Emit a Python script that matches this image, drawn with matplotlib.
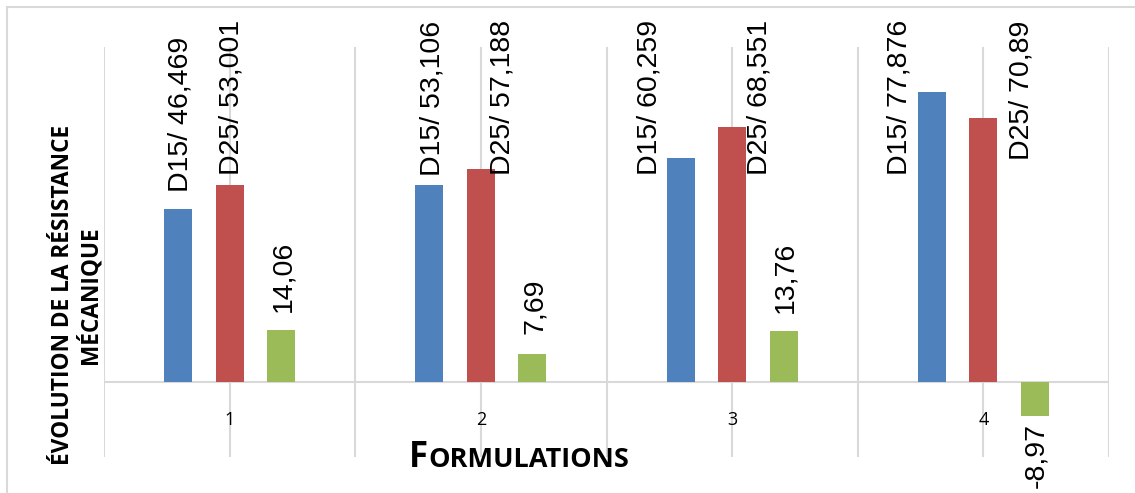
import matplotlib.pyplot as plt
import numpy as np
from matplotlib.offsetbox import TextArea, HPacker, AnnotationBbox
from matplotlib.patches import Rectangle

formulations = ["1", "2", "3", "4"]

d15 = [46.469, 53.106, 60.259, 77.876]
d25 = [53.001, 57.188, 68.551, 70.89]
evolution = [14.06, 7.69, 13.76, -8.97]

d15_labels = ["D15/ 46,469", "D15/ 53,106", "D15/ 60,259", "D15/ 77,876"]
d25_labels = ["D25/ 53,001", "D25/ 57,188", "D25/ 68,551", "D25/ 70,89"]
evolution_labels = ["14,06", "7,69", "13,76", "-8,97"]

# label nudges in pixels (dx, gap) away from the bar end, Excel-style placement
d15_nudge = [(2, 17), (3, 9), (-31, -17), (-32, -83)]
d25_nudge = [(2, 10), (22, -6), (27, -48), (38, -42)]
evo_nudge = [(2, 18), (3, 20), (2, 18), (1, 7)]

BLUE = "#4F81BD"
RED = "#C0504D"
GREEN = "#9BBB59"
GRID = "#d9d9d9"

fig = plt.figure(figsize=(11.35, 4.93), dpi=100)
ax = fig.add_axes([104 / 1135, 36 / 493, 1005 / 1135, 410 / 493])

x = np.arange(len(formulations)) + 1
width = 0.112
offset = 0.205

series = [
    (d15, d15_labels, d15_nudge, BLUE, -offset),
    (d25, d25_labels, d25_nudge, RED, 0.0),
    (evolution, evolution_labels, evo_nudge, GREEN, offset),
]

for values, labels, nudges, color, shift in series:
    ax.bar(x + shift, values, width, color=color, zorder=3)
    for xi, v, lab, (dx, dy) in zip(x + shift, values, labels, nudges):
        if v >= 0:
            va, sign = "bottom", 1
        else:
            va, sign = "top", -1
        ax.annotate(
            lab,
            (xi, v),
            xytext=(dx * 0.72, sign * dy * 0.72),
            textcoords="offset points",
            rotation=90,
            ha="center",
            va=va,
            fontsize=20.5,
            family="Liberation Sans",
            annotation_clip=False,
            zorder=4,
        )

ax.set_xlim(0.5, 4.5)
ax.set_ylim(-20, 90)

# gridlines between and through the categories
for gx in np.arange(0.5, 4.51, 0.5):
    ax.axvline(gx, color=GRID, lw=1.5, zorder=1)
ax.axhline(0, color=GRID, lw=1.5, zorder=2)

for xi, name in zip(x, formulations):
    ax.text(xi, -10.2, name, ha="center", va="center",
            fontsize=13, family="Open Sans", zorder=4)

ax.set_xticks([])
ax.set_yticks([])
for s in ax.spines.values():
    s.set_visible(False)

# axis titles
fig.text(77 / 1135, 1 - 295 / 493,
         "ÉVOLUTION DE LA RÉSISTANCE\nMÉCANIQUE",
         rotation=90, ha="center", va="center", ma="center",
         fontsize=16.3, fontweight="bold", family="Open Sans",
         linespacing=1.1)

big = TextArea("F", textprops=dict(fontsize=25, fontweight="bold", family="Open Sans"))
small = TextArea("ORMULATIONS", textprops=dict(fontsize=19.5, fontweight="bold", family="Open Sans"))
xlabel = HPacker(children=[big, small], align="baseline", pad=0, sep=0)
ab = AnnotationBbox(xlabel, (519 / 1135, 1 - 458 / 493), xycoords="figure fraction",
                    frameon=False, box_alignment=(0.5, 0.5))
fig.add_artist(ab)

# chart frame
fig.add_artist(Rectangle((7 / 1135, -0.1), 1.2, 1 - 7 / 493 + 0.1,
                         transform=fig.transFigure, fill=False,
                         edgecolor=GRID, lw=1.5))

fig.savefig("out.png", dpi=100)
